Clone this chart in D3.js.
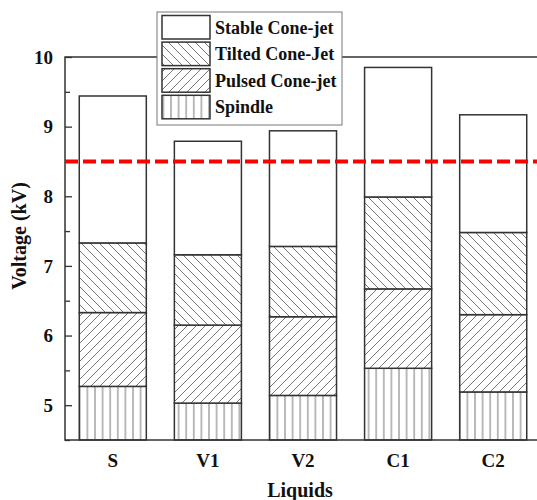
<!DOCTYPE html>
<html><head><meta charset="utf-8">
<script src="https://cdn.jsdelivr.net/npm/d3@7/dist/d3.min.js"></script>
<style>body{margin:0;background:#fff}</style>
</head><body>
<svg id="chart" width="537" height="500"></svg>
<script>
const categories = ["S","V1","V2","C1","C2"];
const seriesNames = ["Spindle","Pulsed Cone-jet","Tilted Cone-Jet","Stable Cone-jet"];
// cumulative boundaries (top of each regime) in kV
const spindleTop = [5.27,5.03,5.14,5.53,5.19];
const pulsedTop  = [6.33,6.15,6.27,6.67,6.30];
const tiltedTop  = [7.33,7.16,7.28,7.99,7.48];
const stableTop  = [9.44,8.79,8.94,9.85,9.17];
const thresholdValue = 8.5;
const yTicks = [5,6,7,8,9,10];
const yMinorTicks = [4.5,5.5,6.5,7.5,8.5,9.5];
const yDomain = [4.5,10];
const legendOrder = ["Stable Cone-jet","Tilted Cone-Jet","Pulsed Cone-jet","Spindle"];

const svg = d3.select("#chart");
const m = {left:65, top:57, right:541, bottom:440};
const font = "Liberation Serif, Tinos, Nimbus Roman, DejaVu Serif, serif";

const x = d3.scaleBand().domain(categories).range([m.left, m.right]).paddingInner(0.295).paddingOuter(0.15);
const y = d3.scaleLinear().domain(yDomain).range([m.bottom, m.top]);

const defs = svg.append("defs");
function pat(id, w, h, path){
  const p = defs.append("pattern").attr("id",id).attr("patternUnits","userSpaceOnUse").attr("width",w).attr("height",h);
  p.append("rect").attr("width",w).attr("height",h).attr("fill","#fff");
  p.append("path").attr("d",path).attr("stroke","#777").attr("stroke-width",1).attr("fill","none");
}
pat("pSpindle", 7.6, 10, "M3.8,0V10");
pat("pPulsed", 9, 9, "M0,9L9,0M-2,2L2,-2M7,11L11,7");
pat("pTilted", 9, 9, "M0,0L9,9M-2,7L2,11M7,-2L11,2");
const fills = {"Spindle":"url(#pSpindle)","Pulsed Cone-jet":"url(#pPulsed)","Tilted Cone-Jet":"url(#pTilted)","Stable Cone-jet":"#fff"};

const baseValue = yDomain[0];
const stacks = seriesNames.map((name,si)=>categories.map((c,i)=>{
  const tops = [spindleTop,pulsedTop,tiltedTop,stableTop];
  const lo = si===0 ? baseValue : tops[si-1][i];
  return {cat:c, lo, hi:tops[si][i], name};
}));

stacks.forEach(series=>{
  svg.append("g").selectAll("rect").data(series).join("rect")
    .attr("x",d=>x(d.cat)).attr("width",x.bandwidth())
    .attr("y",d=>y(d.hi)).attr("height",d=>y(d.lo)-y(d.hi))
    .attr("fill",d=>fills[d.name]).attr("stroke","#333").attr("stroke-width",1.5);
});

// frame
svg.append("rect").attr("x",m.left).attr("y",m.top).attr("width",m.right-m.left).attr("height",m.bottom-m.top)
  .attr("fill","none").attr("stroke","#333").attr("stroke-width",1.5);

// y axis
const yAxis = d3.axisLeft(y).tickValues(yTicks).tickSize(-7).tickPadding(12).tickFormat(d3.format("d"));
const ga = svg.append("g").attr("transform",`translate(${m.left},0)`).call(yAxis);
ga.select(".domain").remove();
ga.selectAll(".tick line").attr("stroke","#333").attr("stroke-width",1.3);
ga.selectAll(".tick text").attr("font-family",font).attr("font-weight","bold").attr("font-size",19).attr("fill","#111");
const gm = svg.append("g").attr("transform",`translate(${m.left},0)`).call(d3.axisLeft(y).tickValues(yMinorTicks).tickSize(-5).tickFormat(""));
gm.select(".domain").remove();
gm.selectAll(".tick line").attr("stroke","#333").attr("stroke-width",1.3);

// x axis labels
const gx = svg.append("g").attr("transform",`translate(0,${m.bottom})`).call(d3.axisBottom(x).tickSize(0).tickPadding(14));
gx.select(".domain").remove();
gx.selectAll(".tick text").attr("font-family",font).attr("font-weight","bold").attr("font-size",19).attr("fill","#111");

// threshold
svg.append("line").attr("x1",m.left).attr("x2",m.right).attr("y1",y(thresholdValue)).attr("y2",y(thresholdValue))
  .attr("stroke","#ff0000").attr("stroke-width",4).attr("stroke-dasharray","13,5");

// axis titles
svg.append("text").attr("x",(m.left+m.right)/2-3).attr("y",497).attr("text-anchor","middle")
  .attr("font-family",font).attr("font-weight","bold").attr("font-size",20).attr("fill","#111").text("Liquids");
svg.append("text").attr("transform",`translate(26,236) rotate(-90)`).attr("text-anchor","middle")
  .attr("font-family",font).attr("font-weight","bold").attr("font-size",20).attr("fill","#111").text("Voltage (kV)");

// legend
const lg = svg.append("g");
lg.append("rect").attr("x",157).attr("y",12).attr("width",185).attr("height",113).attr("fill","#fff").attr("stroke","#777").attr("stroke-width",1);
legendOrder.forEach((name,i)=>{
  const yy = 15.5 + i*26.6;
  lg.append("rect").attr("x",162).attr("y",yy).attr("width",48).attr("height",23.5).attr("fill",fills[name]).attr("stroke","#333").attr("stroke-width",1.5);
  lg.append("text").attr("x",215).attr("y",yy+18).attr("font-family",font).attr("font-weight","bold").attr("font-size",18).attr("fill","#111").text(name);
});
</script>
</body></html>
